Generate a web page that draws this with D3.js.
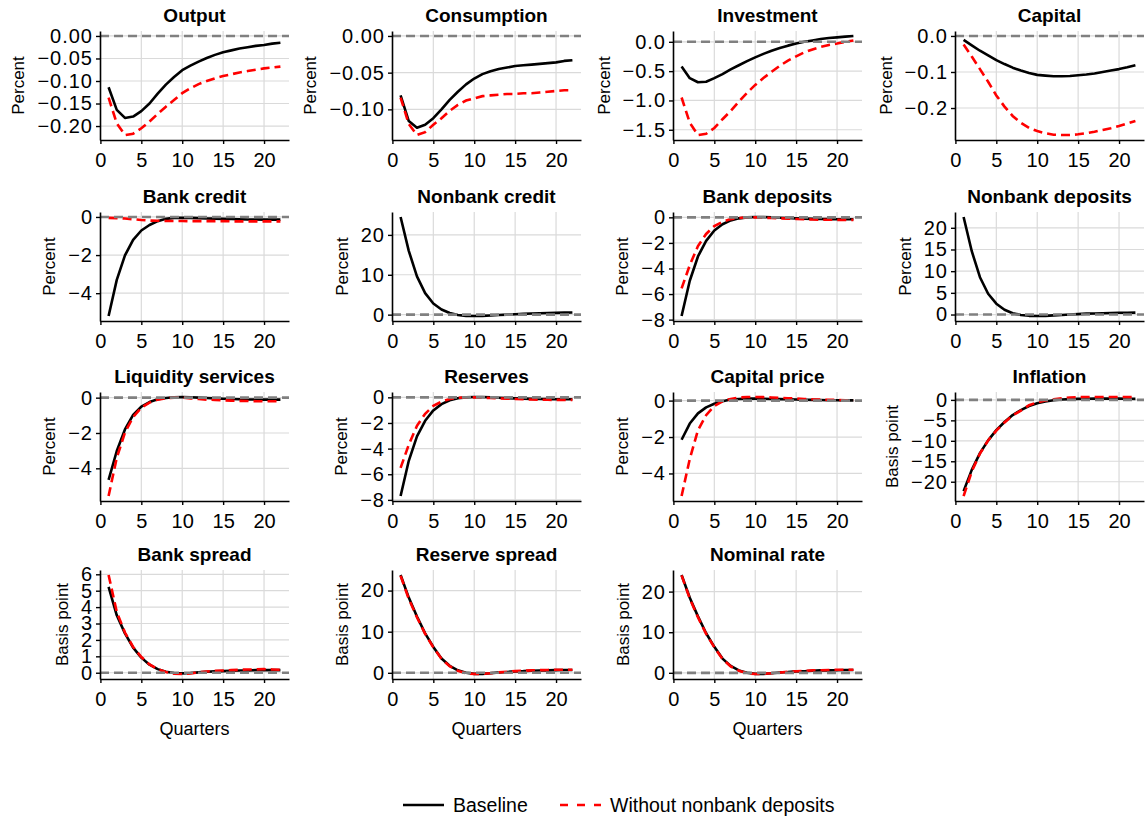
<!DOCTYPE html>
<html>
<head>
<meta charset="utf-8">
<script src="https://cdn.jsdelivr.net/npm/d3@7"></script>
<style>
  html, body { margin: 0; padding: 0; background: #fff; }
  svg text { font-family: "Liberation Sans", Arial, Helvetica, sans-serif; fill: #000; }
</style>
</head>
<body>
<div id="chart"></div>
<script>
(function () {
  const quarters = [1, 2, 3, 4, 5, 6, 7, 8, 9, 10, 11, 12, 13, 14, 15, 16, 17, 18, 19, 20, 21, 22];
  const xTicks = [0, 5, 10, 15, 20];
  const seriesNames = ["Baseline", "Without nonbank deposits"];

  const outputBase = [-0.114, -0.164, -0.182, -0.179, -0.167, -0.150, -0.128, -0.108, -0.091, -0.076, -0.066, -0.057, -0.049, -0.042, -0.036, -0.032, -0.028, -0.025, -0.022, -0.020, -0.017, -0.015];
  const outputNoNB = [-0.137, -0.194, -0.220, -0.217, -0.205, -0.190, -0.173, -0.157, -0.142, -0.127, -0.116, -0.107, -0.100, -0.094, -0.089, -0.085, -0.081, -0.078, -0.075, -0.072, -0.070, -0.068];

  const consBase = [-0.081, -0.116, -0.125, -0.121, -0.112, -0.100, -0.087, -0.076, -0.066, -0.058, -0.052, -0.048, -0.045, -0.043, -0.041, -0.040, -0.039, -0.038, -0.037, -0.036, -0.034, -0.033];
  const consNoNB = [-0.084, -0.120, -0.135, -0.131, -0.121, -0.112, -0.102, -0.094, -0.088, -0.085, -0.082, -0.081, -0.080, -0.079, -0.079, -0.078, -0.078, -0.077, -0.076, -0.075, -0.074, -0.074];

  const invBase = [-0.42, -0.62, -0.69, -0.68, -0.62, -0.55, -0.47, -0.40, -0.33, -0.265, -0.206, -0.153, -0.106, -0.065, -0.03, 0.0, 0.024, 0.047, 0.065, 0.076, 0.088, 0.10];
  const invNoNB = [-0.95, -1.38, -1.59, -1.57, -1.47, -1.32, -1.18, -1.02, -0.87, -0.735, -0.618, -0.512, -0.41, -0.32, -0.247, -0.18, -0.13, -0.088, -0.053, -0.03, 0.0, 0.024];

  const capBase = [-0.011, -0.026, -0.041, -0.054, -0.067, -0.078, -0.088, -0.096, -0.103, -0.108, -0.110, -0.112, -0.112, -0.111, -0.109, -0.107, -0.104, -0.100, -0.096, -0.092, -0.087, -0.081];
  const capNoNB = [-0.024, -0.057, -0.092, -0.127, -0.165, -0.196, -0.222, -0.241, -0.255, -0.264, -0.270, -0.274, -0.275, -0.275, -0.273, -0.270, -0.266, -0.261, -0.256, -0.250, -0.243, -0.236];

  const bankCreditBase = [-5.2, -3.3, -2.02, -1.2, -0.71, -0.42, -0.22, -0.10, -0.05, -0.04, -0.05, -0.06, -0.08, -0.09, -0.10, -0.11, -0.12, -0.13, -0.13, -0.14, -0.14, -0.14];
  const bankCreditNoNB = [-0.05, -0.06, -0.08, -0.12, -0.16, -0.19, -0.20, -0.21, -0.21, -0.21, -0.22, -0.22, -0.22, -0.22, -0.22, -0.23, -0.23, -0.23, -0.23, -0.23, -0.23, -0.23];

  // no nonbank sector in the counterfactual, so no red line is shown
  const nonbankCreditBase = [24.5, 16.0, 9.6, 5.4, 2.8, 1.3, 0.4, -0.1, -0.3, -0.35, -0.3, -0.2, -0.1, 0.0, 0.1, 0.2, 0.3, 0.35, 0.4, 0.45, 0.5, 0.55];
  const nonbankCreditNoNB = [];

  const bankDepBase = [-7.72, -4.96, -3.06, -1.84, -1.03, -0.54, -0.24, -0.08, 0.0, 0.03, 0.03, 0.0, -0.03, -0.05, -0.08, -0.10, -0.12, -0.13, -0.14, -0.15, -0.15, -0.15];
  const bankDepNoNB = [-5.56, -3.74, -2.25, -1.3, -0.68, -0.35, -0.14, -0.05, 0.0, 0.0, -0.03, -0.05, -0.08, -0.10, -0.13, -0.15, -0.17, -0.18, -0.19, -0.20, -0.20, -0.20];

  const nonbankDepBase = [22.5, 14.6, 8.6, 4.8, 2.5, 1.1, 0.3, -0.1, -0.3, -0.35, -0.3, -0.2, -0.1, 0.0, 0.1, 0.2, 0.25, 0.3, 0.35, 0.4, 0.4, 0.45];
  const nonbankDepNoNB = [];

  const liqBase = [-4.66, -3.02, -1.8, -0.98, -0.51, -0.25, -0.09, -0.02, 0.02, 0.04, 0.02, 0.0, -0.02, -0.04, -0.06, -0.08, -0.09, -0.10, -0.10, -0.11, -0.11, -0.11];
  const liqNoNB = [-5.57, -3.4, -1.98, -1.1, -0.57, -0.28, -0.11, -0.04, 0.0, 0.0, -0.04, -0.08, -0.11, -0.13, -0.15, -0.17, -0.18, -0.19, -0.20, -0.20, -0.20, -0.20];

  const reservesBase = [-7.7, -4.95, -3.05, -1.83, -1.02, -0.53, -0.23, -0.07, 0.0, 0.03, 0.03, 0.0, -0.03, -0.06, -0.08, -0.10, -0.12, -0.13, -0.14, -0.15, -0.15, -0.15];
  const reservesNoNB = [-5.5, -3.7, -2.22, -1.28, -0.67, -0.34, -0.13, -0.04, 0.0, 0.0, -0.03, -0.05, -0.08, -0.10, -0.13, -0.15, -0.17, -0.18, -0.19, -0.20, -0.20, -0.20];

  const capPriceBase = [-2.15, -1.26, -0.70, -0.37, -0.17, -0.04, 0.06, 0.09, 0.11, 0.11, 0.10, 0.09, 0.08, 0.07, 0.06, 0.05, 0.04, 0.03, 0.02, 0.02, 0.01, 0.01];
  const capPriceNoNB = [-5.24, -3.2, -1.63, -0.8, -0.3, -0.04, 0.09, 0.17, 0.20, 0.20, 0.19, 0.17, 0.15, 0.13, 0.11, 0.09, 0.07, 0.06, 0.04, 0.04, 0.02, 0.02];

  const inflBase = [-22.3, -17.1, -13.0, -9.9, -7.4, -5.4, -3.7, -2.5, -1.5, -0.8, -0.4, -0.1, 0.1, 0.2, 0.25, 0.28, 0.3, 0.3, 0.3, 0.3, 0.28, 0.26];
  const inflNoNB = [-23.5, -17.5, -13.1, -9.9, -7.5, -5.5, -3.8, -2.6, -1.3, -0.6, -0.15, 0.15, 0.4, 0.58, 0.66, 0.7, 0.72, 0.72, 0.7, 0.7, 0.68, 0.66];

  const bankSpreadBase = [5.24, 3.5, 2.4, 1.53, 0.92, 0.49, 0.22, 0.06, -0.02, -0.04, -0.02, 0.02, 0.06, 0.08, 0.1, 0.12, 0.14, 0.14, 0.16, 0.16, 0.16, 0.16];
  const bankSpreadNoNB = [5.96, 3.7, 2.45, 1.57, 0.96, 0.51, 0.22, 0.04, -0.06, -0.08, -0.04, 0.02, 0.08, 0.12, 0.14, 0.16, 0.18, 0.2, 0.2, 0.22, 0.2, 0.18];

  const reserveSpreadBase = [23.8, 18.3, 13.7, 9.6, 6.3, 3.5, 1.7, 0.6, 0.0, -0.25, -0.25, -0.1, 0.1, 0.2, 0.35, 0.4, 0.5, 0.55, 0.6, 0.65, 0.68, 0.7];
  const reserveSpreadNoNB = [23.6, 18.0, 13.5, 9.5, 6.2, 3.4, 1.6, 0.5, -0.1, -0.3, -0.25, -0.1, 0.1, 0.25, 0.4, 0.5, 0.6, 0.65, 0.7, 0.75, 0.75, 0.75];

  const nominalBase = [24.1, 18.5, 13.9, 9.75, 6.4, 3.5, 1.7, 0.6, 0.0, -0.25, -0.25, -0.1, 0.1, 0.2, 0.35, 0.4, 0.5, 0.6, 0.6, 0.65, 0.68, 0.7];
  const nominalNoNB = [24.0, 18.3, 13.7, 9.6, 6.3, 3.4, 1.6, 0.5, -0.1, -0.3, -0.25, -0.1, 0.1, 0.25, 0.4, 0.5, 0.6, 0.65, 0.7, 0.75, 0.75, 0.75];

  const panels = [
    { title: "Output", unit: "Percent", ticks: [0, -0.05, -0.1, -0.15, -0.2], fmt: ".2f", base: outputBase, alt: outputNoNB },
    { title: "Consumption", unit: "Percent", ticks: [0, -0.05, -0.1], fmt: ".2f", base: consBase, alt: consNoNB },
    { title: "Investment", unit: "Percent", ticks: [0, -0.5, -1, -1.5], fmt: ".1f", base: invBase, alt: invNoNB },
    { title: "Capital", unit: "Percent", ticks: [0, -0.1, -0.2], fmt: ".1f", base: capBase, alt: capNoNB },
    { title: "Bank credit", unit: "Percent", ticks: [0, -2, -4], fmt: "d", base: bankCreditBase, alt: bankCreditNoNB },
    { title: "Nonbank credit", unit: "Percent", ticks: [0, 10, 20], fmt: "d", base: nonbankCreditBase, alt: nonbankCreditNoNB },
    { title: "Bank deposits", unit: "Percent", ticks: [0, -2, -4, -6, -8], fmt: "d", base: bankDepBase, alt: bankDepNoNB },
    { title: "Nonbank deposits", unit: "Percent", ticks: [0, 5, 10, 15, 20], fmt: "d", base: nonbankDepBase, alt: nonbankDepNoNB },
    { title: "Liquidity services", unit: "Percent", ticks: [0, -2, -4], fmt: "d", base: liqBase, alt: liqNoNB },
    { title: "Reserves", unit: "Percent", ticks: [0, -2, -4, -6, -8], fmt: "d", base: reservesBase, alt: reservesNoNB },
    { title: "Capital price", unit: "Percent", ticks: [0, -2, -4], fmt: "d", base: capPriceBase, alt: capPriceNoNB },
    { title: "Inflation", unit: "Basis point", ticks: [0, -5, -10, -15, -20], fmt: "d", base: inflBase, alt: inflNoNB },
    { title: "Bank spread", unit: "Basis point", ticks: [0, 1, 2, 3, 4, 5, 6], fmt: "d", base: bankSpreadBase, alt: bankSpreadNoNB },
    { title: "Reserve spread", unit: "Basis point", ticks: [0, 10, 20], fmt: "d", base: reserveSpreadBase, alt: reserveSpreadNoNB },
    { title: "Nominal rate", unit: "Basis point", ticks: [0, 10, 20], fmt: "d", base: nominalBase, alt: nominalNoNB }
  ];

  const width = 1146;
  const height = 821;
  const colLeft = [100, 392, 673, 955];
  const rowTop = [31, 212, 392, 570];
  const plotW = 189;
  const plotH = 109;

  const baseColor = "#000000";
  const altColor = "#ff0000";
  const zeroColor = "#808080";
  const gridColor = "#dadada";
  const lineW = 2.6;

  const svg = d3.select("#chart").append("svg")
    .attr("width", width)
    .attr("height", height)
    .attr("viewBox", [0, 0, width, height]);

  panels.forEach(function (p, i) {
    const left = colLeft[i % 4];
    const top = rowTop[Math.floor(i / 4)];
    const lastRow = Math.floor(i / 4) === 3;

    const x = d3.scaleLinear([-0.05, 23.05], [left, left + plotW]);
    const all = p.base.concat(p.alt);
    const lo = Math.min(0, d3.min(all));
    const hi = Math.max(0, d3.max(all));
    const pad = (hi - lo) * 0.05;
    const y = d3.scaleLinear([lo - pad, hi + pad], [top + plotH, top]);

    const g = svg.append("g").attr("class", "panel");

    // grid
    g.append("g").selectAll("line")
      .data(xTicks.filter(function (d) { return d > 0; }))
      .join("line")
        .attr("x1", function (d) { return x(d); })
        .attr("x2", function (d) { return x(d); })
        .attr("y1", top)
        .attr("y2", top + plotH)
        .attr("stroke", gridColor)
        .attr("stroke-width", 1.2);
    g.append("g").selectAll("line")
      .data(p.ticks)
      .join("line")
        .attr("x1", left)
        .attr("x2", left + plotW)
        .attr("y1", function (d) { return y(d); })
        .attr("y2", function (d) { return y(d); })
        .attr("stroke", gridColor)
        .attr("stroke-width", 1.2);

    const line = function (vals) {
      return d3.line()
        .x(function (d, k) { return x(quarters[k]); })
        .y(function (d) { return y(d); })(vals);
    };

    g.append("path")
      .attr("d", line(p.base))
      .attr("fill", "none")
      .attr("stroke", baseColor)
      .attr("stroke-width", lineW)
      .attr("stroke-linejoin", "round");

    if (p.alt.length) {
      g.append("path")
        .attr("d", line(p.alt))
        .attr("fill", "none")
        .attr("stroke", altColor)
        .attr("stroke-width", lineW)
        .attr("stroke-dasharray", "9,5");
    }

    g.append("line")
      .attr("x1", left)
      .attr("x2", left + plotW)
      .attr("y1", y(0))
      .attr("y2", y(0))
      .attr("stroke", zeroColor)
      .attr("stroke-width", lineW)
      .attr("stroke-dasharray", "9,5");

    // axes
    const yAxis = d3.axisLeft(y)
      .tickValues(p.ticks)
      .tickFormat(d3.format(p.fmt))
      .tickSize(4)
      .tickSizeOuter(0)
      .tickPadding(3);
    const ya = g.append("g")
      .attr("transform", `translate(${left},0)`)
      .call(yAxis);

    const xAxis = d3.axisBottom(x)
      .tickValues(xTicks)
      .tickFormat(d3.format("d"))
      .tickSize(4)
      .tickSizeOuter(0)
      .tickPadding(9);
    const xa = g.append("g")
      .attr("transform", `translate(0,${top + plotH})`)
      .call(xAxis);

    [ya, xa].forEach(function (a) {
      a.select(".domain").attr("stroke", "#000").attr("stroke-width", 1.6);
      a.selectAll(".tick line").attr("stroke", "#000").attr("stroke-width", 1.4);
      a.selectAll(".tick text").attr("font-size", 20).attr("fill", "#000")
        .attr("font-family", '"Liberation Sans", Arial, sans-serif');
    });
    ya.selectAll(".tick text").attr("letter-spacing", 1);

    const bb = ya.node().getBBox();
    g.append("text")
      .attr("transform", `translate(${left + bb.x - 13},${top + plotH / 2}) rotate(-90)`)
      .attr("text-anchor", "middle")
      .attr("font-size", 17)
      .text(p.unit);

    g.append("text")
      .attr("x", left + plotW / 2)
      .attr("y", top - 9)
      .attr("text-anchor", "middle")
      .attr("font-size", 19)
      .attr("font-weight", "bold")
      .text(p.title);

    if (lastRow) {
      g.append("text")
        .attr("x", left + plotW / 2)
        .attr("y", top + plotH + 56)
        .attr("text-anchor", "middle")
        .attr("font-size", 18)
        .text("Quarters");
    }
  });

  // legend
  const legend = svg.append("g").attr("class", "legend");
  const legendItems = [
    { name: seriesNames[0], color: baseColor, dash: null, x: 403 },
    { name: seriesNames[1], color: altColor, dash: "8,9", x: 560 }
  ];
  legendItems.forEach(function (item) {
    legend.append("line")
      .attr("x1", item.x)
      .attr("x2", item.x + 41)
      .attr("y1", 805)
      .attr("y2", 805)
      .attr("stroke", item.color)
      .attr("stroke-width", lineW)
      .attr("stroke-dasharray", item.dash);
    legend.append("text")
      .attr("x", item.x + 50)
      .attr("y", 812)
      .attr("font-size", 19.5)
      .text(item.name);
  });
})();
</script>
</body>
</html>
